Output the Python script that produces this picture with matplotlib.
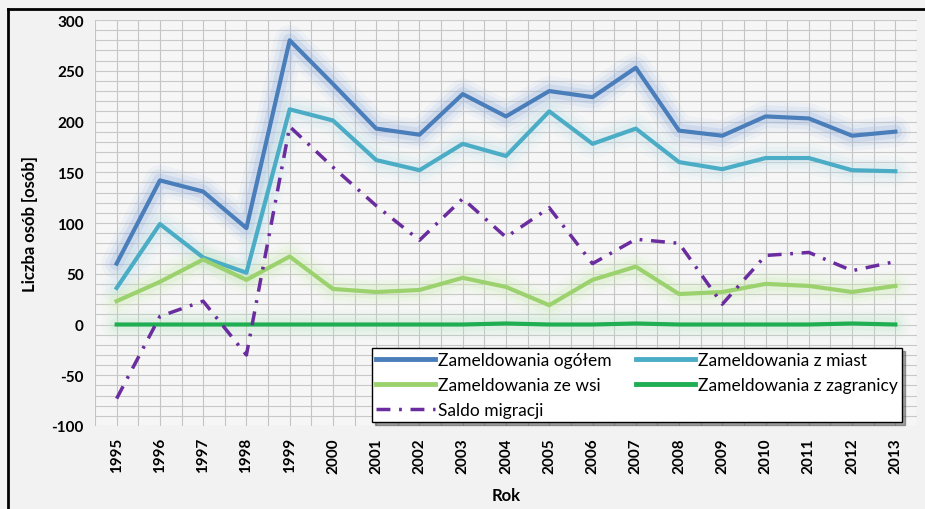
import numpy as np
import matplotlib
matplotlib.use("Agg")
import matplotlib.pyplot as plt
from matplotlib.lines import Line2D

plt.rcParams['font.family'] = ['Lato', 'DejaVu Sans']

years = list(range(1995, 2014))
ogolem = [60, 142, 131, 95, 280, 237, 193, 187, 227, 205, 230, 224, 253, 191, 186, 205, 203, 186, 190]
miast = [36, 99, 66, 51, 212, 201, 162, 152, 178, 166, 210, 178, 193, 160, 153, 164, 164, 152, 151]
wsi = [23, 42, 64, 44, 67, 35, 32, 34, 46, 37, 19, 44, 57, 30, 32, 40, 38, 32, 38]
zagranica = [0, 0, 0, 0, 0, 0, 0, 0, 0, 1, 0, 0, 1, 0, 0, 0, 0, 1, 0]
saldo = [-73, 8, 23, -30, 195, 155, 117, 83, 124, 86, 115, 60, 84, 80, 20, 68, 71, 53, 62]

labels = ["Zameldowania ogółem", "Zameldowania z miast", "Zameldowania ze wsi",
          "Zameldowania z zagranicy", "Saldo migracji"]
colors = ["#4a7ebb", "#4bacc6", "#9bd26e", "#1fae52", "#6a2c9e"]
dashdot = (0, (4, 2.5, 0.8, 2.5))

fig = plt.figure(figsize=(9.25, 5.10), dpi=100)
fig.patch.set_facecolor("#f2f2f2")
ax = fig.add_axes([95 / 925, 1 - 427 / 510, 822 / 925, 406 / 510])
ax.set_facecolor("#f6f6f6")

x = np.arange(len(years))
ax.set_xlim(-0.5, len(years) - 0.5)
ax.set_ylim(-100, 300)

# grid: vertical at years and half years, horizontal every 10
for xv in np.arange(-0.5, len(years), 0.5):
    ax.axvline(xv, color="#c4c4c4", lw=0.8, zorder=0)
for yv in range(-100, 301, 10):
    ax.axhline(yv, color="#c8c8c8", lw=0.8, zorder=0)

# glow + lines
glow = ["#8fb0e0", "#bfe0ea", "#cdeeb0", "#b8e8c6"]
series = [ogolem, miast, wsi, zagranica]
for s, c, g in zip(series, colors[:4], glow):
    for w, a in [(22, 0.08), (16, 0.12), (10, 0.22)]:
        ax.plot(x, s, color=g, lw=w, alpha=a, solid_capstyle="round",
                solid_joinstyle="round", zorder=1)
for s, c in zip(series, colors[:4]):
    ax.plot(x, s, color=c, lw=3, solid_joinstyle="round", zorder=3)

ax.plot(x, saldo, color=colors[4], lw=2.5, linestyle=dashdot, zorder=4)

ax.set_xticks(x)
ax.set_xticklabels([str(y) for y in years], rotation=90, fontsize=11, fontweight="bold")
ax.set_yticks(range(-100, 301, 50))
ax.set_yticklabels([str(v) for v in range(-100, 301, 50)], fontsize=11, fontweight="bold")
ax.tick_params(length=0, pad=8)
for sp in ax.spines.values():
    sp.set_visible(False)

ax.set_xlabel("Rok", fontsize=12, fontweight="bold", labelpad=10)
ax.set_ylabel("Liczba osób [osób]", fontsize=12, fontweight="bold", labelpad=10)

handles = [Line2D([0], [0], color=c, lw=3.5) for c in colors[:4]]
handles.append(Line2D([0], [0], color=colors[4], lw=2.5, linestyle=dashdot))
order = [0, 2, 4, 1, 3]
leg = ax.legend([handles[i] for i in order], [labels[i] for i in order], ncol=2,
                loc="lower left", bbox_to_anchor=(277 / 822, 4 / 406, 530 / 822, 82 / 406),
                mode="expand", fontsize=12.5, frameon=True, fancybox=False, shadow=True,
                handlelength=3.4, handletextpad=0.15, borderaxespad=0, labelspacing=0.5,
                columnspacing=1.0, borderpad=0.25)
leg.get_frame().set_edgecolor("black")
leg.get_frame().set_linewidth(1.0)
leg.get_frame().set_facecolor("white")
leg.set_zorder(10)

# figure frame
fig.add_artist(Line2D([8 / 925, 1], [1 - 10 / 510, 1 - 10 / 510], color="black", lw=2,
                      transform=fig.transFigure))
fig.add_artist(Line2D([8 / 925, 8 / 925], [0, 1 - 10 / 510], color="black", lw=2,
                      transform=fig.transFigure))

fig.savefig("out.png", dpi=100, facecolor=fig.get_facecolor())
